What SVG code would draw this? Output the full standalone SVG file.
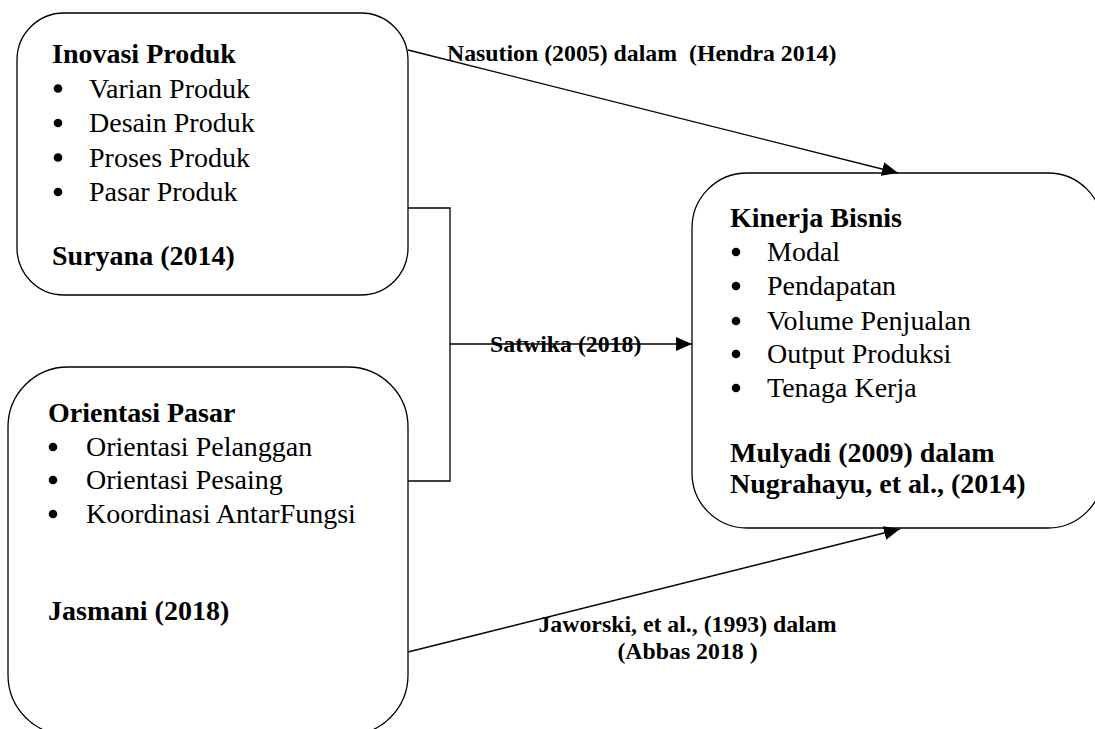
<svg xmlns="http://www.w3.org/2000/svg" width="1095" height="729" viewBox="0 0 1095 729">
  <style>
    .box { fill: #ffffff; stroke: #000000; stroke-width: 1.3; }
    .conn { fill: none; stroke: #000000; stroke-width: 1.3; }
    .t { font-family: "Liberation Serif", "Times New Roman", serif; font-size: 28px; fill: #000000; }
    .b { font-weight: bold; }
    .lbl { font-family: "Liberation Serif", "Times New Roman", serif; font-size: 23.8px; font-weight: bold; fill: #000000; }
    .dot { fill: #000000; }
  </style>
  <defs>
    <marker id="arrow" markerUnits="userSpaceOnUse" markerWidth="18" markerHeight="15" refX="16" refY="7" orient="auto">
      <path d="M0,0 L16,7 L0,14 Z" fill="#000000"/>
    </marker>
  </defs>
  <rect width="1095" height="729" fill="#ffffff"/>

  <g id="inovasi-produk">
    <rect class="box" x="17" y="13" width="391" height="282" rx="47" ry="47"/>
    <text class="t b" x="52" y="63">Inovasi Produk</text>
    <circle class="dot" cx="58" cy="88.5" r="4.3"/>
    <text class="t" x="89" y="97.5">Varian Produk</text>
    <circle class="dot" cx="58" cy="123" r="4.3"/>
    <text class="t" x="89" y="132">Desain Produk</text>
    <circle class="dot" cx="58" cy="157.5" r="4.3"/>
    <text class="t" x="89" y="166.5">Proses Produk</text>
    <circle class="dot" cx="58" cy="192" r="4.3"/>
    <text class="t" x="89" y="201">Pasar Produk</text>
    <text class="t b" x="52" y="265">Suryana (2014)</text>
  </g>

  <g id="orientasi-pasar">
    <rect class="box" x="8" y="367" width="400" height="368" rx="60" ry="60"/>
    <text class="t b" x="48" y="422">Orientasi Pasar</text>
    <circle class="dot" cx="53" cy="447" r="4.3"/>
    <text class="t" x="86" y="456">Orientasi Pelanggan</text>
    <circle class="dot" cx="53" cy="480" r="4.3"/>
    <text class="t" x="86" y="489">Orientasi Pesaing</text>
    <circle class="dot" cx="53" cy="514" r="4.3"/>
    <text class="t" x="86" y="523">Koordinasi AntarFungsi</text>
    <text class="t b" x="48" y="620">Jasmani (2018)</text>
  </g>

  <g id="kinerja-bisnis">
    <rect class="box" x="692" y="173" width="411" height="355" rx="55" ry="55"/>
    <text class="t b" x="730" y="227">Kinerja Bisnis</text>
    <circle class="dot" cx="736" cy="252" r="4.3"/>
    <text class="t" x="767" y="261">Modal</text>
    <circle class="dot" cx="736" cy="286" r="4.3"/>
    <text class="t" x="767" y="295">Pendapatan</text>
    <circle class="dot" cx="736" cy="321" r="4.3"/>
    <text class="t" x="767" y="330">Volume Penjualan</text>
    <circle class="dot" cx="736" cy="354" r="4.3"/>
    <text class="t" x="767" y="363">Output Produksi</text>
    <circle class="dot" cx="736" cy="388" r="4.3"/>
    <text class="t" x="767" y="397">Tenaga Kerja</text>
    <text class="t b" x="730" y="462">Mulyadi (2009) dalam</text>
    <text class="t b" x="730" y="493">Nugrahayu, et al., (2014)</text>
  </g>

  <g id="connectors">
    <line class="conn" x1="408" y1="50" x2="898" y2="173" marker-end="url(#arrow)"/>
    <path class="conn" d="M408,208 H450 V481 H408"/>
    <line class="conn" x1="450" y1="344" x2="692" y2="344" marker-end="url(#arrow)"/>
    <line class="conn" x1="408" y1="652" x2="900" y2="529" marker-end="url(#arrow)"/>
    <text class="lbl" x="447" y="61" xml:space="preserve">Nasution (2005) dalam  (Hendra 2014)</text>
    <text class="lbl" x="490" y="352">Satwika (2018)</text>
    <text class="lbl" x="687.5" y="632" text-anchor="middle">Jaworski, et al., (1993) dalam</text>
    <text class="lbl" x="687.5" y="659" text-anchor="middle">(Abbas 2018 )</text>
  </g>
</svg>
